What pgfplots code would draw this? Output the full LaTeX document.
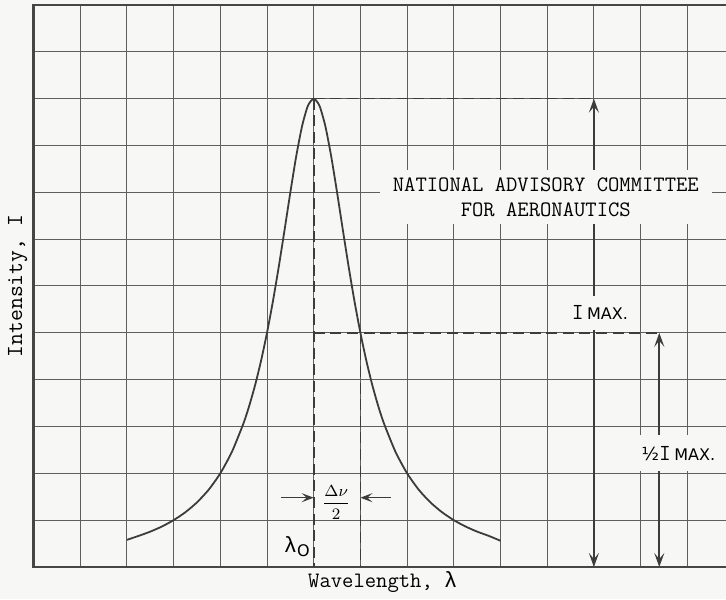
\documentclass[border=0pt]{standalone}
\usepackage{pgfplots}
\pgfplotsset{compat=1.18}
\usepackage{fontspec}
\newfontfamily\sans{DejaVu Sans}
\newfontfamily\lam{Liberation Mono}
\usetikzlibrary{arrows.meta}
\definecolor{bg}{RGB}{247,247,245}
\definecolor{gridc}{RGB}{95,95,95}
\definecolor{axc}{RGB}{70,70,70}
\definecolor{curvec}{RGB}{60,60,60}
\tikzset{
  dashes/.style={curvec, line width=0.8pt, dash pattern=on 5.5pt off 2.8pt},
  arr/.style={curvec, line width=0.8pt},
  both/.style={{Stealth[length=7pt,width=5pt,inset=3pt]}-{Stealth[length=7pt,width=5pt,inset=3pt]}},
  one/.style={-{Stealth[length=6pt,width=4.5pt,inset=2.5pt]}}
}
\begin{document}
\begin{tikzpicture}
\fill[bg] (-16.75pt,-16pt) rectangle (346.25pt,283.5pt);
\clip (-16.75pt,-16pt) rectangle (346.25pt,283.5pt);
\begin{axis}[
  at={(0pt,0pt)}, anchor=south west,
  scale only axis, width=350.25pt, height=281pt,
  xmin=0, xmax=15, ymin=0, ymax=12,
  xtick={0,1,...,15}, ytick={0,1,...,12},
  xticklabels={}, yticklabels={},
  major tick length=0pt, tick style={draw=none},
  grid=major,
  major grid style={line width=0.5pt, gridc},
  axis line style={line width=1.2pt, axc},
  clip=false,
]
\addplot[curvec, line width=0.9pt, smooth, tension=0.4] coordinates {
(2,0.58) (2.25,0.664) (2.5,0.755) (2.75,0.865) (3,1.0) (3.25,1.168) (3.5,1.379)
(3.75,1.649) (4,2.0) (4.25,2.462) (4.5,3.077) (4.625,3.459) (4.75,3.902) (4.875,4.414)
(5,5.0) (5.125,5.664) (5.25,6.4) (5.375,7.191) (5.5,8.0) (5.625,8.767) (5.75,9.41)
(5.875,9.846) (6,10)
(6.125,9.846) (6.25,9.41) (6.375,8.767) (6.5,8.0) (6.625,7.191) (6.75,6.4) (6.875,5.664)
(7,5.0) (7.125,4.414) (7.25,3.902) (7.375,3.459) (7.5,3.077) (7.75,2.462) (8,2.0)
(8.25,1.649) (8.5,1.379) (8.75,1.168) (9,1.0) (9.25,0.865) (9.5,0.755) (9.75,0.664) (10,0.56)
};
\addplot[dashes] coordinates {(6,10) (12,10)};
\addplot[dashes] coordinates {(6,10) (6,0)};
\addplot[dashes] coordinates {(6,5) (13.4,5)};
\addplot[dashes] coordinates {(7,5) (7,0)};
\addplot[arr, both] coordinates {(12,10) (12,0)};
\addplot[arr, both] coordinates {(13.4,5) (13.4,0)};
\addplot[arr, one] coordinates {(5.3,1.48) (6,1.48)};
\addplot[arr, one] coordinates {(7.65,1.48) (7,1.48)};

\node[fill=bg, minimum width=166pt, minimum height=27pt, align=center,
      font=\ttfamily\fontsize{11}{12.5}\selectfont, inner sep=1pt]
  at (axis cs:10.97,7.9) {NATIONAL ADVISORY COMMITTEE\\FOR AERONAUTICS};
\node[fill=bg, inner sep=2pt, minimum height=17pt]
  at (axis cs:12.13,5.43) {{\ttfamily\fontsize{11.5}{12}\selectfont I}\,{\sans\fontsize{8}{10}\selectfont MAX.}};
\node[fill=bg, inner sep=2pt, minimum height=18pt]
  at (axis cs:13.81,2.43) {{\sans\fontsize{9}{10}\selectfont ½}{\ttfamily\fontsize{11.5}{12}\selectfont I}\,{\sans\fontsize{8}{10}\selectfont MAX.}};
\node at (axis cs:6.48,1.37) {\sans\fontsize{8}{10}\selectfont$\displaystyle\frac{\Delta\nu}{2}$};
\node at (axis cs:5.64,0.43) {{\lam\fontsize{11}{12}\selectfont λ}\raisebox{-0.4ex}{\sans\fontsize{8}{10}\selectfont O}};
\node[rotate=90, font=\ttfamily\fontsize{11.5}{12}\selectfont] at (axis cs:-0.34,6.0) {Intensity, I};
\node[font=\ttfamily\fontsize{11}{12}\selectfont] at (axis cs:7.48,-0.33) {Wavelength, {\lam λ}};
\end{axis}
\end{tikzpicture}
\end{document}
